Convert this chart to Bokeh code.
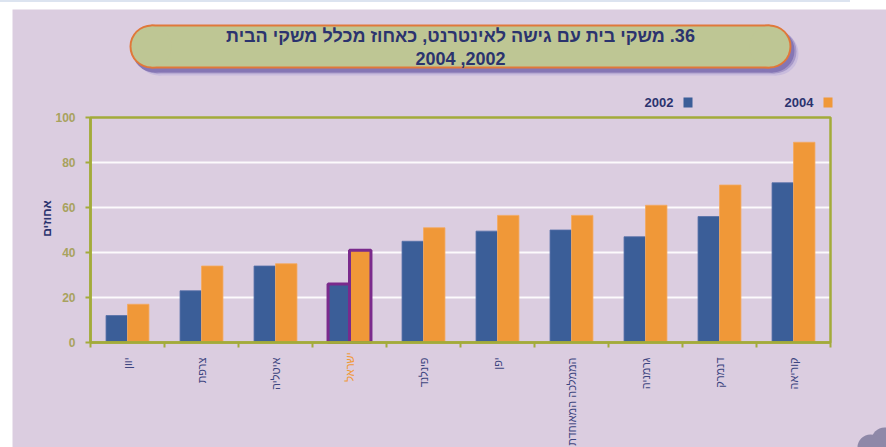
import math
from bokeh.plotting import figure
from bokeh.models import Range1d, FixedTicker, ColumnDataSource, Spacer, LinearAxis
from bokeh.layouts import row, column
from bokeh.core.properties import value
from bokeh.embed import file_html
from bokeh.resources import INLINE

# ---- data ----
countries = ["יוון", "צרפת", "איטליה", "ישראל", "פינלנד", "יפן",
             "הממלכה המאוחדת", "גרמניה", "דנמרק", "קוריאה"]
values_2002 = [12, 23, 34, 26, 45, 49.5, 50, 47, 56, 71]
values_2004 = [17, 34, 35, 41, 51, 56.5, 56.5, 61, 70, 89]
series_names = ["2002", "2004"]
highlight = "ישראל"
y_ticks = [0, 20, 40, 60, 80, 100]
title_lines = ["36. משקי בית עם גישה לאינטרנט, כאחוז מכלל משקי הבית", "2002, 2004"]
y_label = "אחוזים"

# ---- styles ----
BG = "#DBCDE0"
OLIVE = "#A3AB3A"
TICK_TXT = "#A8A25E"
NAVY = "#2B336E"
LABEL_NAVY = "#3E4680"
BLUE = "#3B5E98"
ORANGE = "#F09838"
PURPLE = "#7A2A8C"
PILL = "#BEC694"
PILL_EDGE = "#E0783A"
FONT = "Liberation Sans"
RLM = "\u200F"

# ---- layout (page pixels) ----
FIG_X0, FIG_Y0, W, H = 12, 9, 874, 438
FRAME_L, FRAME_R = 90, 830      # plot box left / right
Y0_PX, YTOP_PX = 342, 117       # pixel rows of 0 and of the top value

n = len(countries)
SX = (FRAME_R - FRAME_L) / n
SY = (Y0_PX - YTOP_PX) / (y_ticks[-1] - y_ticks[0])


def dx(X):  # page x -> data x (category i is centred on i + 1)
    return 0.5 + (X - FRAME_L) / SX


def dy(Y):  # page y -> data y
    return y_ticks[0] + (Y0_PX - Y) / SY


centers = [i + 1 for i in range(n)]
bounds = [i + 0.5 for i in range(n + 1)]
hi = countries.index(highlight)
src = ColumnDataSource(dict(x02=[c - 0.145 for c in centers], x04=[c + 0.145 for c in centers],
                            v02=values_2002, v04=values_2004))
hsrc = ColumnDataSource(dict(x02=[centers[hi] - 0.145], x04=[centers[hi] + 0.145],
                             v02=[values_2002[hi]], v04=[values_2004[hi]]))

p = figure(width=W, height=H, output_backend="svg", toolbar_location=None,
           x_range=Range1d(dx(FIG_X0), dx(FIG_X0 + W)),
           y_range=Range1d(dy(FIG_Y0 + H), dy(FIG_Y0)),
           x_axis_location=None, y_axis_location=None,
           min_border=0, min_border_left=0, min_border_right=0,
           min_border_top=0, min_border_bottom=0)
p.background_fill_color = BG
p.border_fill_color = BG
p.outline_line_color = None
p.grid.grid_line_color = None

# white grid lines inside the plot box
grid_vals = y_ticks[1:-1]
p.segment(x0=[bounds[0]] * len(grid_vals), x1=[bounds[-1]] * len(grid_vals),
          y0=grid_vals, y1=grid_vals, line_color="white", line_width=2, line_alpha=0.9)

# bars
p.vbar(x="x02", top="v02", width=0.29, bottom=0, source=src,
       fill_color=BLUE, line_color="#5670A8", line_width=0.8)
p.vbar(x="x04", top="v04", width=0.29, bottom=0, source=src,
       fill_color=ORANGE, line_color="#F4AA60", line_width=0.8)
p.vbar(x="x02", top="v02", width=0.29, bottom=0, source=hsrc,
       fill_color=None, line_color=PURPLE, line_width=3)
p.vbar(x="x04", top="v04", width=0.29, bottom=0, source=hsrc,
       fill_color=None, line_color=PURPLE, line_width=3)

# plot box
p.quad(left=[bounds[0]], right=[bounds[-1]], bottom=[y_ticks[0]], top=[y_ticks[-1]],
       fill_color=None, line_color=OLIVE, line_width=2.5)

# y axis (fixed at the box's left edge)
yax = LinearAxis(fixed_location=bounds[0], bounds=(y_ticks[0], y_ticks[-1]),
                 ticker=FixedTicker(ticks=y_ticks))
yax.axis_line_color = OLIVE
yax.axis_line_width = 2.5
yax.major_tick_line_color = OLIVE
yax.major_tick_line_width = 2
yax.major_tick_out = 5
yax.major_tick_in = 0
yax.minor_tick_line_color = None
yax.major_label_standoff = 10
yax.major_label_text_color = TICK_TXT
yax.major_label_text_font = FONT
yax.major_label_text_font_style = "bold"
yax.major_label_text_font_size = "12px"
p.add_layout(yax, "left")

# x axis (fixed at 0): ticks at category borders, labels at centres
xax = LinearAxis(fixed_location=y_ticks[0], bounds=(bounds[0], bounds[-1]),
                 ticker=FixedTicker(ticks=centers, minor_ticks=bounds))
xax.axis_line_color = OLIVE
xax.axis_line_width = 2.5
xax.major_tick_line_color = None
xax.major_tick_out = 0
xax.major_tick_in = 0
xax.minor_tick_line_color = OLIVE
xax.minor_tick_line_width = 2
xax.minor_tick_out = 5
xax.minor_tick_in = 0
xax.major_label_overrides = {c: ("" if name == highlight else name)
                             for c, name in zip(centers, countries)}
xax.major_label_orientation = math.pi / 2
xax.major_label_standoff = 10
xax.major_label_text_color = LABEL_NAVY
xax.major_label_text_font = FONT
xax.major_label_text_font_size = "11px"
p.add_layout(xax, "below")

# highlighted category label in orange
hax = LinearAxis(fixed_location=y_ticks[0], bounds=(bounds[0], bounds[-1]),
                 ticker=FixedTicker(ticks=[centers[hi]], minor_ticks=[]))
hax.axis_line_color = None
hax.major_tick_line_color = None
hax.major_tick_out = 0
hax.major_tick_in = 0
hax.minor_tick_line_color = None
hax.major_label_overrides = {centers[hi]: highlight}
hax.major_label_orientation = math.pi / 2
hax.major_label_standoff = 10
hax.major_label_text_color = ORANGE
hax.major_label_text_font = FONT
hax.major_label_text_font_size = "11px"
p.add_layout(hax, "below")

# y axis title
p.text(x=[dx(46)], y=[dy(218)], text=[y_label], angle=math.pi / 2,
       text_align="center", text_baseline="middle", text_color=NAVY,
       text_font=value(FONT), text_font_style="bold", text_font_size="12px")

# title pill with soft shadow
PILL_L, PILL_R, PILL_T, PILL_B = 130, 790, 25, 67
pr = (PILL_B - PILL_T) / 2
pcx, pcy = (PILL_L + PILL_R) / 2, (PILL_T + PILL_B) / 2


def pill(ox, oy, rad, color):
    ends = [PILL_L + pr + ox, PILL_R - pr + ox]
    p.rect(x=[dx(pcx + ox)], y=[dy(pcy + oy)], width=ends[1] - ends[0], height=2 * rad,
           width_units="screen", height_units="screen", fill_color=color, line_color=None)
    p.circle(x=[dx(e) for e in ends], y=[dy(pcy + oy)] * 2, radius=rad,
             radius_units="screen", fill_color=color, line_color=None)


pill(7, 7, pr + 1, "#C9BCDD")
pill(5, 5, pr + 1, "#A698C8")
pill(3, 4, pr + 1, "#8576B4")
pill(0, 0, pr + 1, PILL_EDGE)
pill(0, 0, pr - 1, PILL)

p.text(x=[dx(pcx)] * 2, y=[dy(35), dy(58)],
       text=[RLM + s + RLM for s in title_lines],
       text_align="center", text_baseline="middle", text_color=NAVY,
       text_font=value(FONT), text_font_style="bold", text_font_size="18px")

# legend (text then square, right-to-left layout)
leg_right = [673, 813]
p.text(x=[dx(v) for v in leg_right], y=[dy(102)] * 2, text=series_names,
       text_align="right", text_baseline="middle", text_color=NAVY,
       text_font=value(FONT), text_font_style="bold", text_font_size="13px")
p.rect(x=[dx(v + 14.5) for v in leg_right], y=[dy(102)] * 2, width=9, height=10,
       width_units="screen", height_units="screen",
       fill_color=[BLUE, ORANGE], line_color=None)

# corner decoration
p.circle(x=[dx(884), dx(870)], y=[dy(440), dy(447)], radius=13, radius_units="screen",
         fill_color="#8E88A8", line_color=None)

top_strip = Spacer(width=850, height=FIG_Y0,
                   styles={"background": "linear-gradient(#DCE4F0 0px, #DCE4F0 2px, #FFFFFF 2px)"})
layout = column(top_strip, row(Spacer(width=FIG_X0, height=H), p))
open("out.html", "w").write(file_html(layout, INLINE))
